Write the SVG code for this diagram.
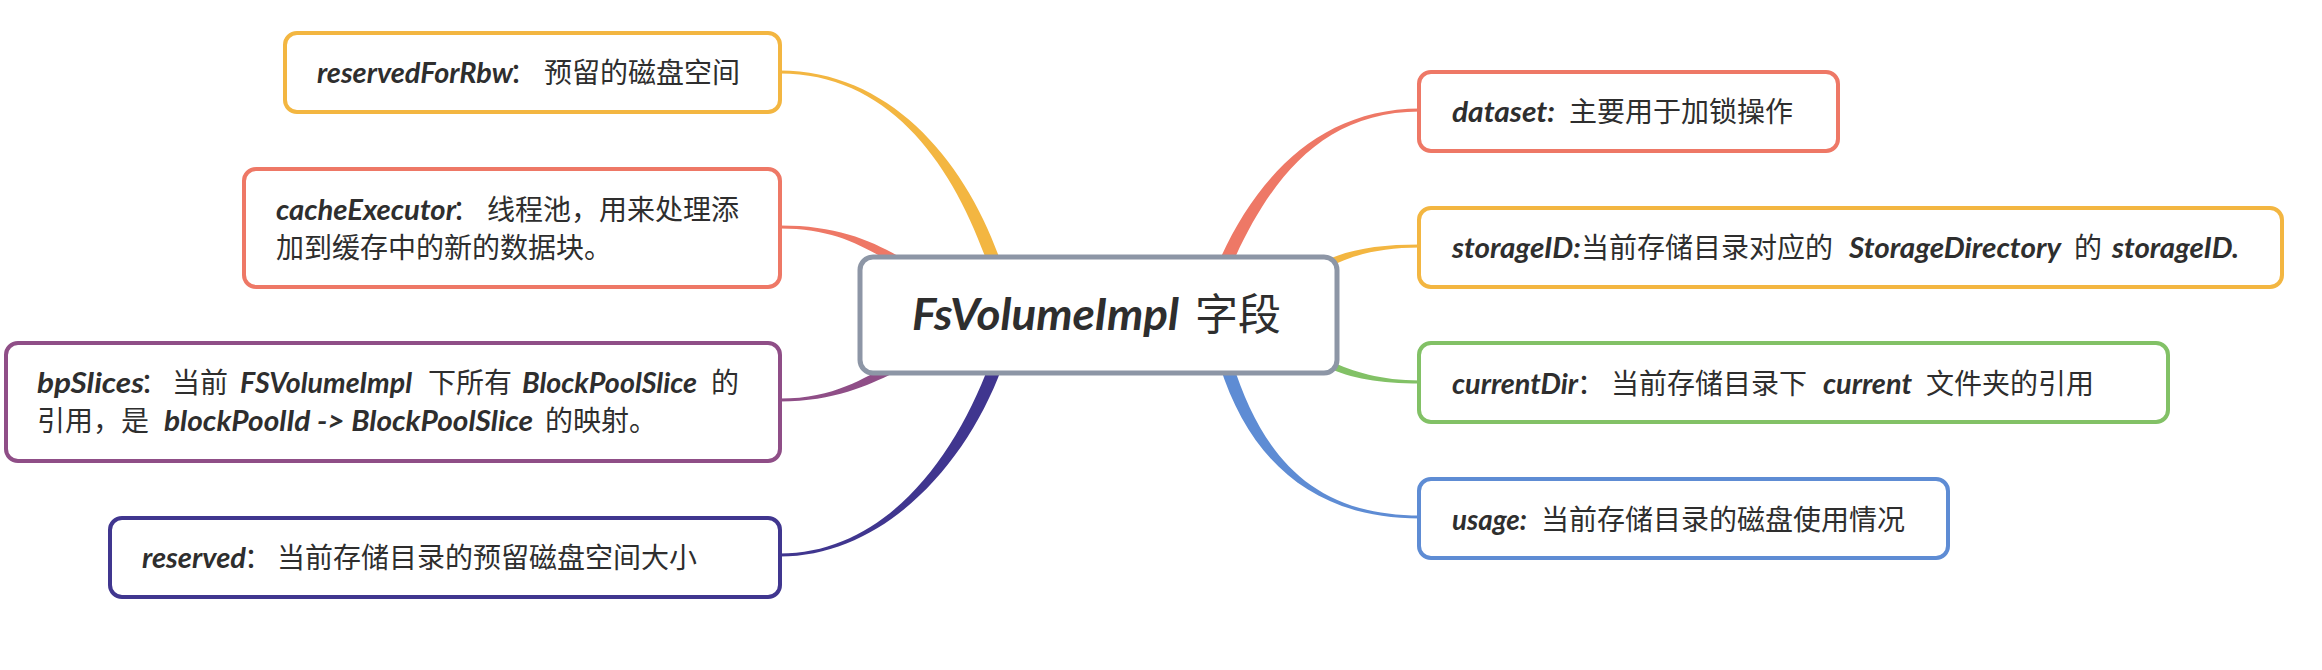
<svg xmlns="http://www.w3.org/2000/svg" width="2322" height="670" viewBox="0 0 2322 670">
<style>
.box{fill:#ffffff;stroke-width:4}
.t{font-family:"Noto Sans CJK SC","Noto Sans",sans-serif;font-size:28px;fill:#2e2e2e}
.l{font-family:Lato,"Liberation Sans",sans-serif;font-weight:bold;font-style:italic}
.title{font-size:43px}
</style>
<rect width="2322" height="670" fill="#ffffff"/>
<g id="connectors">
<path fill="#F3B641" d="M780,73.5 C890,73.5 953.8,165 988.8,267 L1001.2,263 C966.2,161 890,70.5 780,70.5 Z"/>
<path fill="#EE7866" d="M780,228.5 C835,228.5 863.8,246.9 893.8,263.9 L898.2,256.1 C868.2,239.1 835,225.5 780,225.5 Z"/>
<path fill="#8F4E87" d="M780,401.5 C835,401.5 867.9,385.1 893.9,373.1 L890.1,364.9 C864.1,376.9 835,398.5 780,398.5 Z"/>
<path fill="#40368F" d="M780,556.5 C880,556.5 964.1,470.3 1002.1,367.3 L989.9,362.7 C951.9,465.7 880,553.5 780,553.5 Z"/>
<path fill="#EE7866" d="M1420,108.5 C1320,108.5 1256,177.4 1219,261.4 L1231,266.6 C1268,182.6 1320,111.5 1420,111.5 Z"/>
<path fill="#F3B641" d="M1420,244.5 C1380,244.5 1348.4,248.9 1323.4,261.9 L1326.6,268.1 C1351.6,255.1 1380,247.5 1420,247.5 Z"/>
<path fill="#82C166" d="M1420,380.5 C1380,380.5 1353.5,371.8 1329.5,360.8 L1326.5,367.2 C1350.5,378.2 1380,383.5 1420,383.5 Z"/>
<path fill="#5E8CD4" d="M1420,515.5 C1310,515.5 1261.2,453 1232.2,362 L1219.8,366 C1248.8,457 1310,518.5 1420,518.5 Z"/>
</g>
<g id="center">
<rect x="860" y="257" width="477" height="116" rx="13" fill="#ffffff" stroke="#8D96A6" stroke-width="5"/>
<text class="t title" y="330"><tspan class="l" x="912" textLength="267" lengthAdjust="spacingAndGlyphs">FsVolumeImpl</tspan><tspan> </tspan><tspan x="1195">字段</tspan></text>
</g>
<g id="node-reservedForRbw">
<rect class="box" x="285" y="33" width="495" height="79" rx="12" stroke="#F3B641"/>
<text class="t" y="83"><tspan class="l" x="317" textLength="196" lengthAdjust="spacingAndGlyphs">reservedForRbw</tspan><tspan x="509">：</tspan><tspan x="544">预留的磁盘空间</tspan></text>
</g>
<g id="node-cacheExecutor">
<rect class="box" x="244" y="169" width="536" height="118" rx="12" stroke="#EE7866"/>
<text class="t" y="220"><tspan class="l" x="276" textLength="180" lengthAdjust="spacingAndGlyphs">cacheExecutor</tspan><tspan x="452">：</tspan><tspan x="487">线程池，用来处理添</tspan></text>
<text class="t" y="258"><tspan x="276">加到缓存中的新的数据块。</tspan></text>
</g>
<g id="node-bpSlices">
<rect class="box" x="6" y="343" width="774" height="118" rx="12" stroke="#8F4E87"/>
<text class="t" y="393"><tspan class="l" x="37" textLength="107" lengthAdjust="spacingAndGlyphs">bpSlices</tspan><tspan x="140">：</tspan><tspan x="172">当前</tspan><tspan class="l" x="240" textLength="172" lengthAdjust="spacingAndGlyphs">FSVolumeImpl</tspan><tspan x="428">下所有</tspan><tspan class="l" x="522" textLength="175" lengthAdjust="spacingAndGlyphs">BlockPoolSlice</tspan><tspan x="711">的</tspan></text>
<text class="t" y="431"><tspan x="37">引用，是</tspan><tspan class="l" x="164" textLength="369" lengthAdjust="spacingAndGlyphs">blockPoolId -&gt; BlockPoolSlice</tspan><tspan x="545">的映射。</tspan></text>
</g>
<g id="node-reserved">
<rect class="box" x="110" y="518" width="670" height="79" rx="12" stroke="#40368F"/>
<text class="t" y="568"><tspan class="l" x="142" textLength="104" lengthAdjust="spacingAndGlyphs">reserved</tspan><tspan x="244">：</tspan><tspan x="277">当前存储目录的预留磁盘空间大小</tspan></text>
</g>
<g id="node-dataset">
<rect class="box" x="1419" y="72" width="419" height="79" rx="12" stroke="#EE7866"/>
<text class="t" y="122"><tspan class="l" x="1452" textLength="103" lengthAdjust="spacingAndGlyphs">dataset:</tspan><tspan x="1569">主要用于加锁操作</tspan></text>
</g>
<g id="node-storageID">
<rect class="box" x="1419" y="208" width="863" height="79" rx="12" stroke="#F3B641"/>
<text class="t" y="258"><tspan class="l" x="1452" textLength="129" lengthAdjust="spacingAndGlyphs">storageID:</tspan><tspan x="1581">当前存储目录对应的</tspan><tspan class="l" x="1849" textLength="212" lengthAdjust="spacingAndGlyphs">StorageDirectory</tspan><tspan x="2074">的</tspan><tspan class="l" x="2112" textLength="127" lengthAdjust="spacingAndGlyphs">storageID.</tspan></text>
</g>
<g id="node-currentDir">
<rect class="box" x="1419" y="343" width="749" height="79" rx="12" stroke="#82C166"/>
<text class="t" y="394"><tspan class="l" x="1452" textLength="126" lengthAdjust="spacingAndGlyphs">currentDir</tspan><tspan x="1577">：</tspan><tspan x="1611">当前存储目录下</tspan><tspan class="l" x="1823" textLength="89" lengthAdjust="spacingAndGlyphs">current</tspan><tspan x="1926">文件夹的引用</tspan></text>
</g>
<g id="node-usage">
<rect class="box" x="1419" y="479" width="529" height="79" rx="12" stroke="#5E8CD4"/>
<text class="t" y="530"><tspan class="l" x="1452" textLength="75" lengthAdjust="spacingAndGlyphs">usage:</tspan><tspan x="1541">当前存储目录的磁盘使用情况</tspan></text>
</g>
</svg>
